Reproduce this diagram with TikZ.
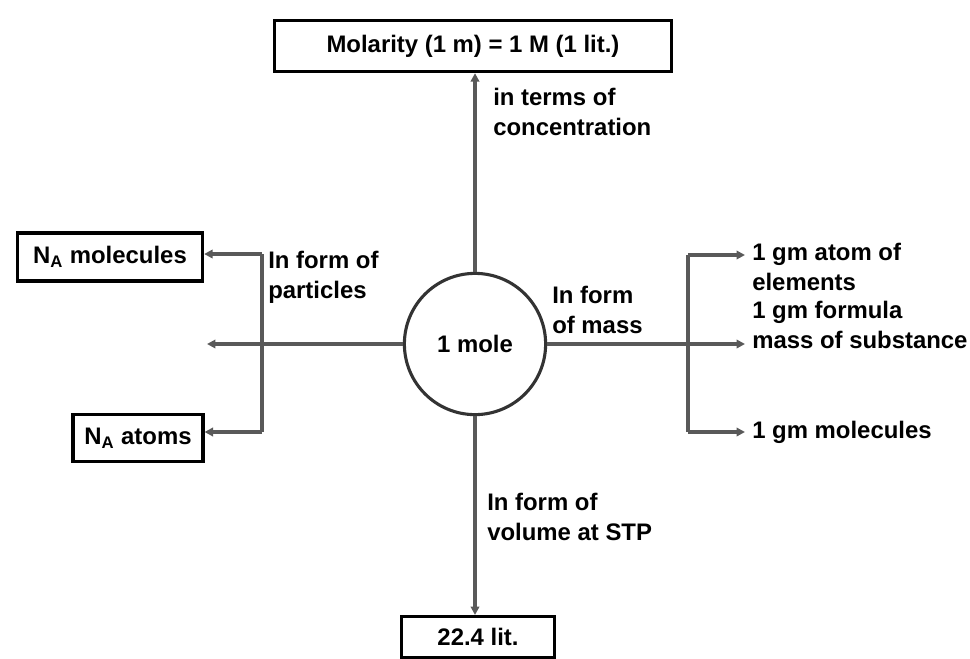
\documentclass[tikz,border=0pt]{standalone}
\usepackage{fontspec}
\setmainfont{Liberation Sans}
\usetikzlibrary{arrows.meta, positioning}

\begin{document}
\begin{tikzpicture}[x=0.025cm, y=-0.025cm, >={Triangle[length=6pt, width=6pt]},
    font=\fontsize{17}{21}\selectfont\bfseries,
    box/.style={draw, line width=2.2pt, inner sep=0pt, align=center},
    lbl/.style={align=left, anchor=north west, inner sep=0pt},
    link/.style={draw=black!65, line width=2.2pt}]
    \useasboundingbox (0,0) rectangle (970,658);
    % centre and the four boxes
    \node[circle, draw=black!80, line width=2.2pt, minimum size=3.53cm, inner sep=0pt] (mol) at (475,344) {1 mole};
    \node[box, minimum width=9.93cm, minimum height=1.28cm] (conc) at (473,46) {Molarity (1 m) = 1 M (1 lit.)};
    \node[box, anchor=north, minimum width=3.83cm, minimum height=1.03cm] (vol) at (478,615) {22.4 lit.};
    \node[box, minimum width=4.63cm, minimum height=1.2cm] (nam) at (110,257) {N\textsubscript{A} molecules};
    \node[box, minimum width=3.25cm, minimum height=1.18cm] (naa) at (138,438) {N\textsubscript{A} atoms};
    % branch points
    \coordinate (lt) at (262,254);
    \coordinate (lb) at (262,432);
    \coordinate (lend) at (207,344);
    \coordinate (rt) at (688,255);
    \coordinate (rb) at (688,432);
    \coordinate (g1) at (745,255);
    \coordinate (g2) at (745,344);
    \coordinate (g3) at (745,432);
    \draw[link, ->] (mol.north) -- (mol.north |- conc.south);
    \draw[link, ->] (mol.south) -- (mol.south |- vol.north);
    \draw[link, ->] (mol.west) -- (lend);
    \draw[link] (lt) -- (lb);
    \draw[link, ->] (lt) -- (lt -| nam.east);
    \draw[link, ->] (lb) -- (lb -| naa.east);
    \draw[link, ->] (mol.east) -- (g2);
    \draw[link] (rt) -- (rb);
    \draw[link, ->] (rt) -- (g1);
    \draw[link, ->] (rb) -- (g3);
    % labels
    \node[lbl] (lconc) at (493,88) {in terms of\\concentration};
    \node[lbl] (lpart) at (268,251) {In form of\\particles};
    \node[lbl] (lmass) at (552,286) {In form\\of mass};
    \node[lbl] (lvol) at (487,493) {In form of\\volume at STP};
    \node[lbl] (gatom) at (752,243) {1 gm atom of\\elements};
    \node[lbl] (gform) at (752,301) {1 gm formula\\mass of substance};
    \node[lbl, anchor=base west] (gmol) at (752,438) {1 gm molecules};
\end{tikzpicture}
\end{document}
